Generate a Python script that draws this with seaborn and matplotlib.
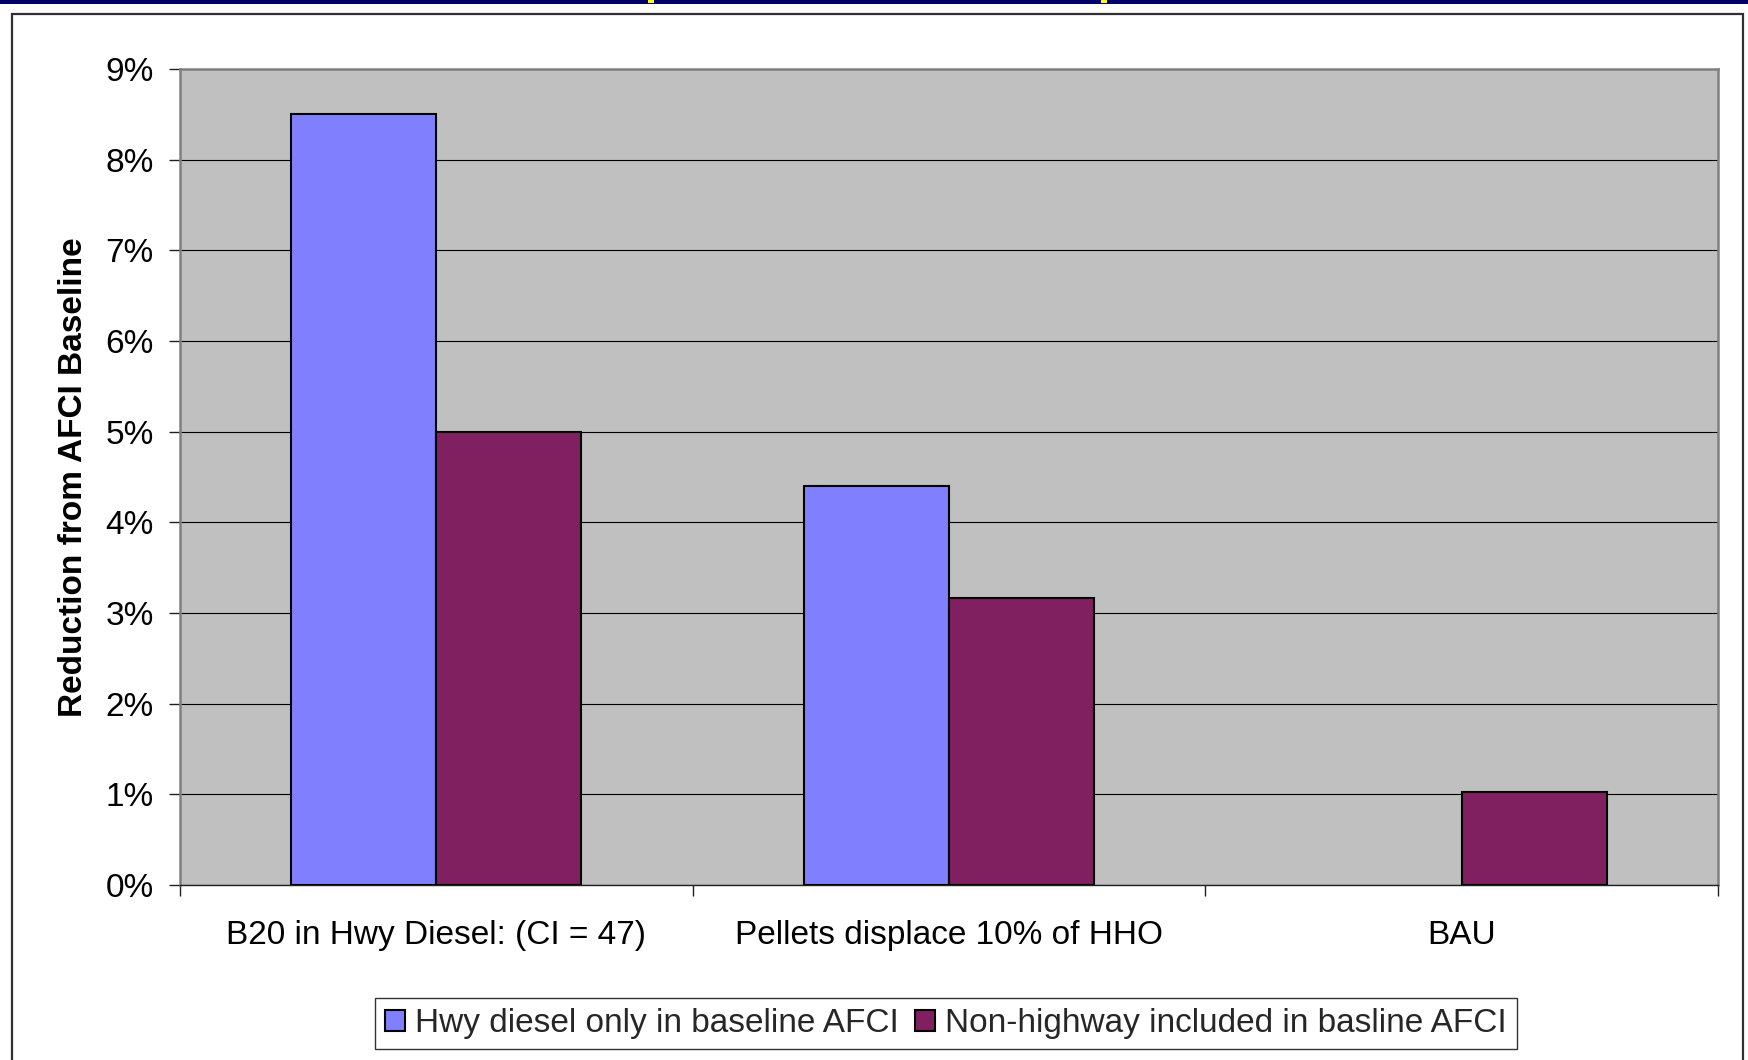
import numpy as np
import pandas as pd
import matplotlib
matplotlib.use("Agg")
import matplotlib.pyplot as plt
import seaborn as sns
from matplotlib.patches import Rectangle

# Scenario categories and the two baseline series (percent reduction)
scenarios = ["B20 in Hwy Diesel: (CI = 47)", "Pellets displace 10% of HHO", "BAU"]
series_names = ["Hwy diesel only in baseline AFCI", "Non-highway included in basline AFCI"]
hwy_only = [8.5, 4.4, np.nan]
non_highway = [5.0, 3.16, 1.03]
y_ticks = [0, 1, 2, 3, 4, 5, 6, 7, 8, 9]
y_tick_labels = [f"{v}%" for v in y_ticks]

colors = ["#8080FF", "#802060"]

df = pd.DataFrame({
    "scenario": scenarios * 2,
    "series": [series_names[0]] * 3 + [series_names[1]] * 3,
    "reduction": hwy_only + non_highway,
})

sns.set_theme(style="white")
plt.rcParams["font.family"] = ["Liberation Sans", "DejaVu Sans"]

FS = 24
W, H = 1749, 1060
fig = plt.figure(figsize=(W / 100, H / 100), dpi=100)
fig.patch.set_facecolor("white")

# Slide decorations: navy band on top and the chart frame
fig.add_artist(Rectangle((0, 1 - 3.5 / H), 1, 3.5 / H, transform=fig.transFigure,
                         facecolor="#000066", edgecolor="none", zorder=5))
for x0 in (648, 1101):
    fig.add_artist(Rectangle((x0 / W, 1 - 3 / H), 6 / W, 3 / H, transform=fig.transFigure,
                             facecolor="#FFFF00", edgecolor="none", zorder=6))
fig.add_artist(Rectangle((12 / W, -0.05), (1743 - 12) / W, 1.05 - 14 / H,
                         transform=fig.transFigure, facecolor="none",
                         edgecolor="#303030", linewidth=1.6, zorder=5))

ax = fig.add_axes([180 / W, 1 - 885 / H, (1718 - 180) / W, (885 - 69) / H])
ax.set_facecolor("#C0C0C0")

sns.barplot(data=df, x="scenario", y="reduction", hue="series",
            order=scenarios, hue_order=series_names, palette=colors,
            width=0.566, gap=0, edgecolor="black", linewidth=1.5,
            saturation=1, ax=ax, zorder=3)

ax.set_ylim(0, 9)
ax.set_yticks(y_ticks)
ax.set_yticklabels(y_tick_labels)
ax.set_xlim(-0.5, 2.5)
ax.set_xticks([-0.5, 0.5, 1.5, 2.5])
ax.set_xticklabels([])
ax.set_xticks([0, 1, 2], minor=True)
ax.set_xticklabels(scenarios, minor=True)

ax.tick_params(axis="y", which="major", direction="out", length=8, width=1,
               color="#202020", pad=11, labelsize=FS, left=True, labelcolor="black")
ax.tick_params(axis="x", which="major", direction="out", length=8, width=1,
               color="#202020", bottom=True)
ax.tick_params(axis="x", which="minor", length=0, pad=25, labelsize=FS,
               labelcolor="black", bottom=True)

ax.grid(axis="y", color="black", linewidth=0.8)
ax.grid(axis="x", visible=False)
ax.set_axisbelow(True)

for side in ["left", "top", "right"]:
    ax.spines[side].set_visible(True)
    ax.spines[side].set_color("#808080")
    ax.spines[side].set_linewidth(1.8)
ax.spines["bottom"].set_color("#202020")
ax.spines["bottom"].set_linewidth(1.0)

ax.set_xlabel("")
ax.set_ylabel("Reduction from AFCI Baseline", fontsize=FS, fontweight="bold", color="black")
ax.yaxis.set_label_coords(-0.059, 0.5)

handles, labels = ax.get_legend_handles_labels()
ax.get_legend().remove()
leg = fig.legend(handles, labels, loc="center", bbox_to_anchor=(946 / W, 1 - 1023.5 / H),
                 ncol=2, fontsize=FS, frameon=True, fancybox=False, edgecolor="black",
                 handlelength=0.6, handleheight=0.6, handletextpad=0.3,
                 columnspacing=0.5, borderpad=0.3, borderaxespad=0)
leg.get_frame().set_linewidth(1.0)
for h in leg.legend_handles:
    h.set_edgecolor("black")
    h.set_linewidth(1.5)

fig.savefig("out.png", dpi=100, facecolor="white")
